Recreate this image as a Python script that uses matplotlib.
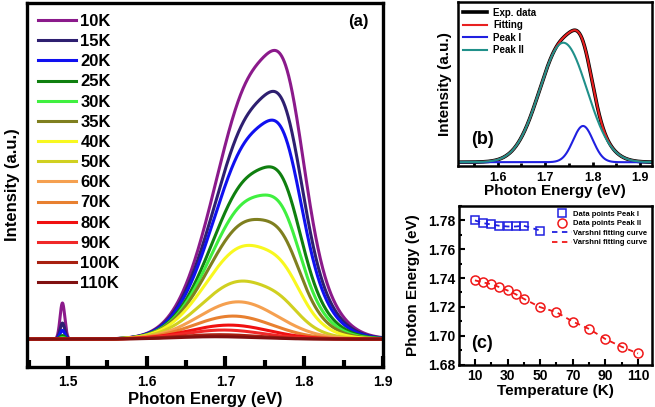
import numpy as np
import matplotlib
matplotlib.use('Agg')
import matplotlib.pyplot as plt
from matplotlib.ticker import MultipleLocator

plt.rcParams['font.family'] = ['Liberation Sans', 'DejaVu Sans']
plt.rcParams['font.weight'] = 'bold'
plt.rcParams['axes.labelweight'] = 'bold'

# temperatures of the spectra in (a)
temps = [10, 15, 20, 25, 30, 35, 40, 50, 60, 70, 80, 90, 100, 110]
labels = ['10K', '15K', '20K', '25K', '30K', '35K', '40K', '50K',
          '60K', '70K', '80K', '90K', '100K', '110K']
colors = ['#8b1a8b', '#2e1f70', '#1010f0', '#0f7f0f', '#40f040', '#7f7f1f',
          '#f8f820', '#d0d020', '#f5a050', '#e88030', '#f01010', '#f02828',
          '#a82010', '#801010']

# peak energies
temps_p1 = [10, 15, 20, 25, 30, 35, 40, 50]
e_peak1 = [1.7800, 1.7781, 1.7772, 1.7763, 1.7758, 1.7758, 1.7763, 1.7730]
e_peak2 = [1.7384, 1.7370, 1.7358, 1.7337, 1.7314, 1.7288, 1.7256, 1.7198,
           1.7163, 1.7098, 1.7047, 1.6977, 1.6923, 1.6877]

# peak heights (10K maximum = 1)
amp_peak2 = [0.90, 0.77, 0.685, 0.55, 0.47, 0.40, 0.318, 0.198,
             0.128, 0.079, 0.048, 0.031, 0.015, 0.008]
amp_peak1 = [0.27, 0.23, 0.20, 0.15, 0.12, 0.09, 0.06, 0.03,
             0, 0, 0, 0, 0, 0]
amp_low = [0.124, 0.055, 0.03, 0.012, 0.005, 0, 0, 0, 0, 0, 0, 0, 0, 0]
e_low = 1.493
w_peak2 = 0.05
w_peak1 = 0.021
w_low = 0.003

# panel (b): 10K decomposition
b_amp2 = 0.94
b_amp1 = 0.285


def gauss(x, a, c, w):
    return a * np.exp(-(x - c) ** 2 / (2 * w ** 2))


E = np.linspace(1.44, 1.93, 1500)

fig = plt.figure(figsize=(6.55, 4.07), dpi=100)

# ---------------- (a)
ax = fig.add_axes([0.0412, 0.0983, 0.5435, 0.8943])
for i in range(len(temps)):
    y = gauss(E, amp_peak2[i], e_peak2[i], w_peak2)
    if i < len(e_peak1):
        y = y + gauss(E, amp_peak1[i], e_peak1[i], w_peak1)
    y = y + gauss(E, amp_low[i], e_low, w_low)
    ax.plot(E, y, color=colors[i], lw=2.2, label=labels[i])
ax.set_xlim(1.448, 1.9)
ax.set_ylim(-0.096, 1.155)
ax.xaxis.set_major_locator(MultipleLocator(0.1))
ax.xaxis.set_minor_locator(MultipleLocator(0.05))
ax.set_yticks([])
ax.tick_params(axis='x', which='major', direction='in', length=8, width=3,
               labelsize=10, pad=6)
ax.tick_params(axis='x', which='minor', direction='in', length=5, width=3)
for s in ax.spines.values():
    s.set_linewidth(2.4)
ax.set_xlabel('Photon Energy (eV)', fontsize=12, labelpad=2)
ax.set_ylabel('Intensity (a.u.)', fontsize=12, labelpad=5)
ax.text(0.93, 0.97, '(a)', transform=ax.transAxes, fontsize=12,
        ha='center', va='top')
ax.legend(loc='upper left', bbox_to_anchor=(0.0, 1.0), frameon=False,
          fontsize=12, handlelength=2.3, handletextpad=0.25,
          labelspacing=0.31, borderaxespad=0.25)

# ---------------- (b)
bx = fig.add_axes([0.6985, 0.5921, 0.2965, 0.4029])
p2 = gauss(E, b_amp2, e_peak2[0], w_peak2)
p1 = gauss(E, b_amp1, e_peak1[0], w_peak1)
fit = p1 + p2
bx.plot(E, fit, color='black', lw=2.6, label='Exp. data')
bx.plot(E, fit, color='#e82020', lw=1.5, label='Fitting')
bx.plot(E, p1, color='#2020e0', lw=1.5, label='Peak I')
bx.plot(E, p2, color='#20908a', lw=1.5, label='Peak II')
bx.set_xlim(1.515, 1.925)
bx.set_ylim(-0.03, 1.26)
bx.xaxis.set_major_locator(MultipleLocator(0.1))
bx.xaxis.set_minor_locator(MultipleLocator(0.05))
bx.set_yticks([])
bx.tick_params(axis='x', which='major', direction='in', length=3, width=2,
               labelsize=9, pad=4)
bx.tick_params(axis='x', which='minor', direction='in', length=2, width=2)
for s in bx.spines.values():
    s.set_linewidth(1.8)
bx.set_xlabel('Photon Energy (eV)', fontsize=11, labelpad=0)
bx.set_ylabel('Intensity (a.u.)', fontsize=11, labelpad=4)
bx.text(0.13, 0.16, '(b)', transform=bx.transAxes, fontsize=13,
        ha='center', va='center')
bx.legend(loc='upper left', frameon=False, fontsize=7, handlelength=2.4,
          handletextpad=0.7, labelspacing=0.25, borderaxespad=0.2)

# ---------------- (c)
cx = fig.add_axes([0.7012, 0.1044, 0.2937, 0.3894])
cx.plot(temps_p1, e_peak1, ls='none', marker='s', ms=5.5, mfc='none',
        mec='#2020e0', mew=1.1, label='Data points Peak I')
cx.plot(temps, e_peak2, ls='none', marker='o', ms=6.5, mfc='none',
        mec='#f01818', mew=1.1, label='Data points Peak II')
cx.plot(temps_p1, e_peak1, ls='--', color='#2020e0', lw=1.3,
        dashes=(3, 2.5), label='Varshni fitting curve')
cx.plot(temps, e_peak2, ls='--', color='#f01818', lw=1.3,
        dashes=(3, 2.5), label='Varshni fitting curve')
cx.set_xlim(0.4, 118.4)
cx.set_ylim(1.68, 1.79)
cx.set_xticks([10, 30, 50, 70, 90, 110])
cx.xaxis.set_minor_locator(MultipleLocator(10))
cx.yaxis.set_major_locator(MultipleLocator(0.02))
cx.yaxis.set_minor_locator(MultipleLocator(0.01))
cx.tick_params(which='major', direction='in', length=4, width=1.5,
               labelsize=10, pad=3)
cx.tick_params(which='minor', direction='in', length=2.5, width=1.5)
for s in cx.spines.values():
    s.set_linewidth(1.8)
cx.set_xlabel('Temperature (K)', fontsize=11, labelpad=1)
cx.set_ylabel('Photon Energy (eV)', fontsize=11, labelpad=6)
cx.text(0.12, 0.13, '(c)', transform=cx.transAxes, fontsize=13,
        ha='center', va='center')
cx.legend(loc='upper right', frameon=False, fontsize=5.5, handlelength=2.6,
          handletextpad=0.15, labelspacing=0.28, borderaxespad=0.2)

fig.savefig('out.png', dpi=100)
